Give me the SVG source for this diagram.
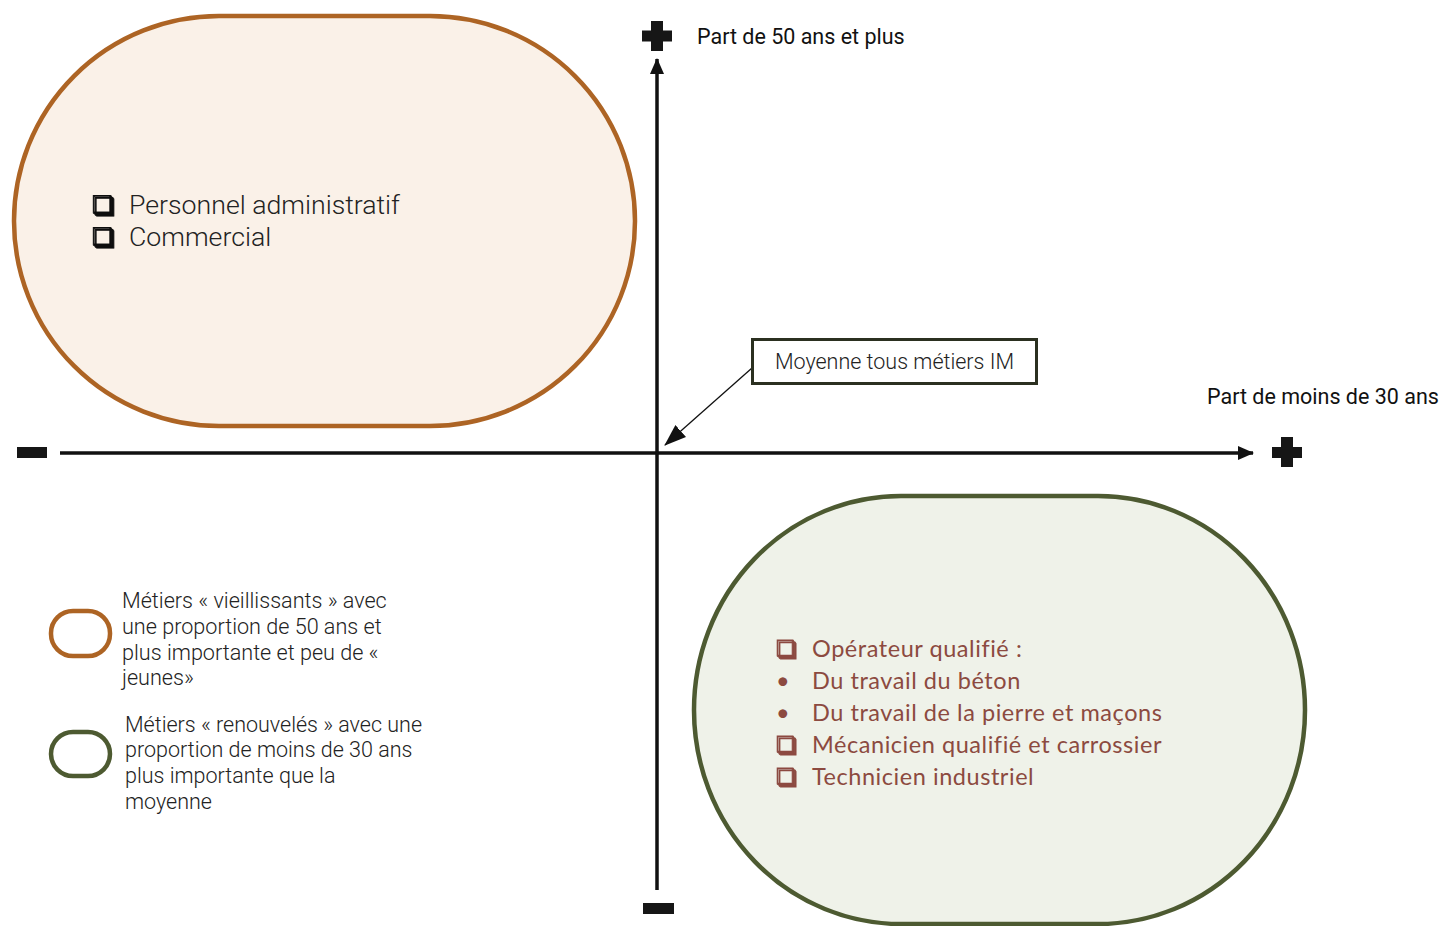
<svg xmlns="http://www.w3.org/2000/svg" width="1440" height="926" viewBox="0 0 1440 926">
  <defs>
    <marker id="arrowBig" markerWidth="16" markerHeight="14" refX="15" refY="7" orient="auto" markerUnits="userSpaceOnUse">
      <path d="M0,0 L16,7 L0,14 Z" fill="#111"/>
    </marker>
    <marker id="arrowSmall" markerWidth="22" markerHeight="16" refX="21" refY="8" orient="auto" markerUnits="userSpaceOnUse">
      <path d="M0,0 L22,8 L0,16 Z" fill="#111"/>
    </marker>
    <filter id="shadow" x="-20%" y="-20%" width="160%" height="160%">
      <feOffset in="SourceGraphic" dx="1.6" dy="1.6" result="off"/>
      <feMerge>
        <feMergeNode in="off"/>
        <feMergeNode in="SourceGraphic"/>
      </feMerge>
    </filter>
  </defs>
  <style>
    .axis { stroke: #111; stroke-width: 3.5; fill: none; }
    .sign { fill: #161616; }
    .lab { font-family: Roboto, "Liberation Sans", sans-serif; fill: #111; }
    .light { font-family: Roboto, "Liberation Sans", sans-serif; font-weight: 300; fill: #222; }
    .green-txt { font-family: Lato, "Liberation Sans", sans-serif; fill: #8c4a40; font-size: 23.5px; letter-spacing: 0.55px; }
    .box { font-family: "DejaVu Sans", sans-serif; stroke-width: 0.8; filter: url(#shadow); }
  </style>
  <rect width="1440" height="926" fill="#ffffff"/>

  <g id="node-vieillissants">
    <rect x="14" y="16" width="621" height="410" rx="205" ry="205" fill="#faf1e8" stroke="#ad6424" stroke-width="4.5"/>
    <text class="box" x="92" y="213" font-size="24" fill="#111" stroke="#111">❑</text>
    <text class="light" x="129" y="214" font-size="26.7">Personnel administratif</text>
    <text class="box" x="92" y="245" font-size="24" fill="#111" stroke="#111">❑</text>
    <text class="light" x="129" y="246" font-size="26.7">Commercial</text>
  </g>

  <g id="node-renouveles">
    <rect x="694" y="496" width="611" height="428" rx="207" ry="214" fill="#eff2e9" stroke="#4d5a31" stroke-width="4.5"/>
    <text class="box" x="776" y="656" font-size="22" fill="#8c4a40" stroke="#8c4a40">❑</text>
    <text class="green-txt" x="812" y="657">Opérateur qualifié :</text>
    <text class="green-txt" x="776" y="689">•</text>
    <text class="green-txt" x="812" y="689">Du travail du béton</text>
    <text class="green-txt" x="776" y="721">•</text>
    <text class="green-txt" x="812" y="721">Du travail de la pierre et maçons</text>
    <text class="box" x="776" y="752" font-size="22" fill="#8c4a40" stroke="#8c4a40">❑</text>
    <text class="green-txt" x="812" y="753">Mécanicien qualifié et carrossier</text>
    <text class="box" x="776" y="784" font-size="22" fill="#8c4a40" stroke="#8c4a40">❑</text>
    <text class="green-txt" x="812" y="785">Technicien industriel</text>
  </g>

  <g id="connectors">
    <line class="axis" x1="60" y1="453" x2="1253" y2="453" marker-end="url(#arrowBig)"/>
    <line class="axis" x1="657" y1="890" x2="657" y2="59" marker-end="url(#arrowBig)"/>
    <line x1="752" y1="368" x2="665" y2="445" stroke="#111" stroke-width="1.3" marker-end="url(#arrowSmall)"/>
  </g>

  <g id="node-plus-top">
    <rect class="sign" x="651" y="21" width="12" height="30"/>
    <rect class="sign" x="642" y="30.5" width="30" height="11"/>
  </g>
  <g id="node-plus-right">
    <rect class="sign" x="1281" y="437" width="12" height="30"/>
    <rect class="sign" x="1272" y="447" width="30" height="11"/>
  </g>
  <g id="node-minus-left">
    <rect class="sign" x="17" y="447" width="30" height="11"/>
  </g>
  <g id="node-minus-bottom">
    <rect class="sign" x="643" y="903" width="31" height="11"/>
  </g>

  <g id="label-y">
    <text class="lab" x="697" y="44" font-size="21.5">Part de 50 ans et plus</text>
  </g>
  <g id="label-x">
    <text class="lab" x="1207" y="404" font-size="21.5">Part de moins de 30 ans</text>
  </g>

  <g id="node-moyenne">
    <rect x="752.5" y="339.5" width="284" height="44" fill="#ffffff" stroke="#2b3020" stroke-width="3"/>
    <text class="light" x="894.5" y="369" font-size="21.5" text-anchor="middle">Moyenne tous métiers IM</text>
  </g>

  <g id="legend-vieillissants">
    <rect x="51" y="611" width="59" height="45" rx="22" ry="22" fill="none" stroke="#ad6424" stroke-width="4.5"/>
    <text class="light" font-size="21.6">
      <tspan x="122" y="608">Métiers « vieillissants » avec</tspan>
      <tspan x="122" y="634">une proportion de 50 ans et</tspan>
      <tspan x="122" y="660">plus importante et peu de  «</tspan>
      <tspan x="122" y="685">jeunes»</tspan>
    </text>
  </g>
  <g id="legend-renouveles">
    <rect x="51" y="732" width="59" height="44" rx="22" ry="22" fill="none" stroke="#4d5a31" stroke-width="4.5"/>
    <text class="light" font-size="21.5">
      <tspan x="125" y="732">Métiers « renouvelés » avec une</tspan>
      <tspan x="125" y="757">proportion de moins de 30 ans</tspan>
      <tspan x="125" y="783">plus importante que la</tspan>
      <tspan x="125" y="809">moyenne</tspan>
    </text>
  </g>
</svg>
